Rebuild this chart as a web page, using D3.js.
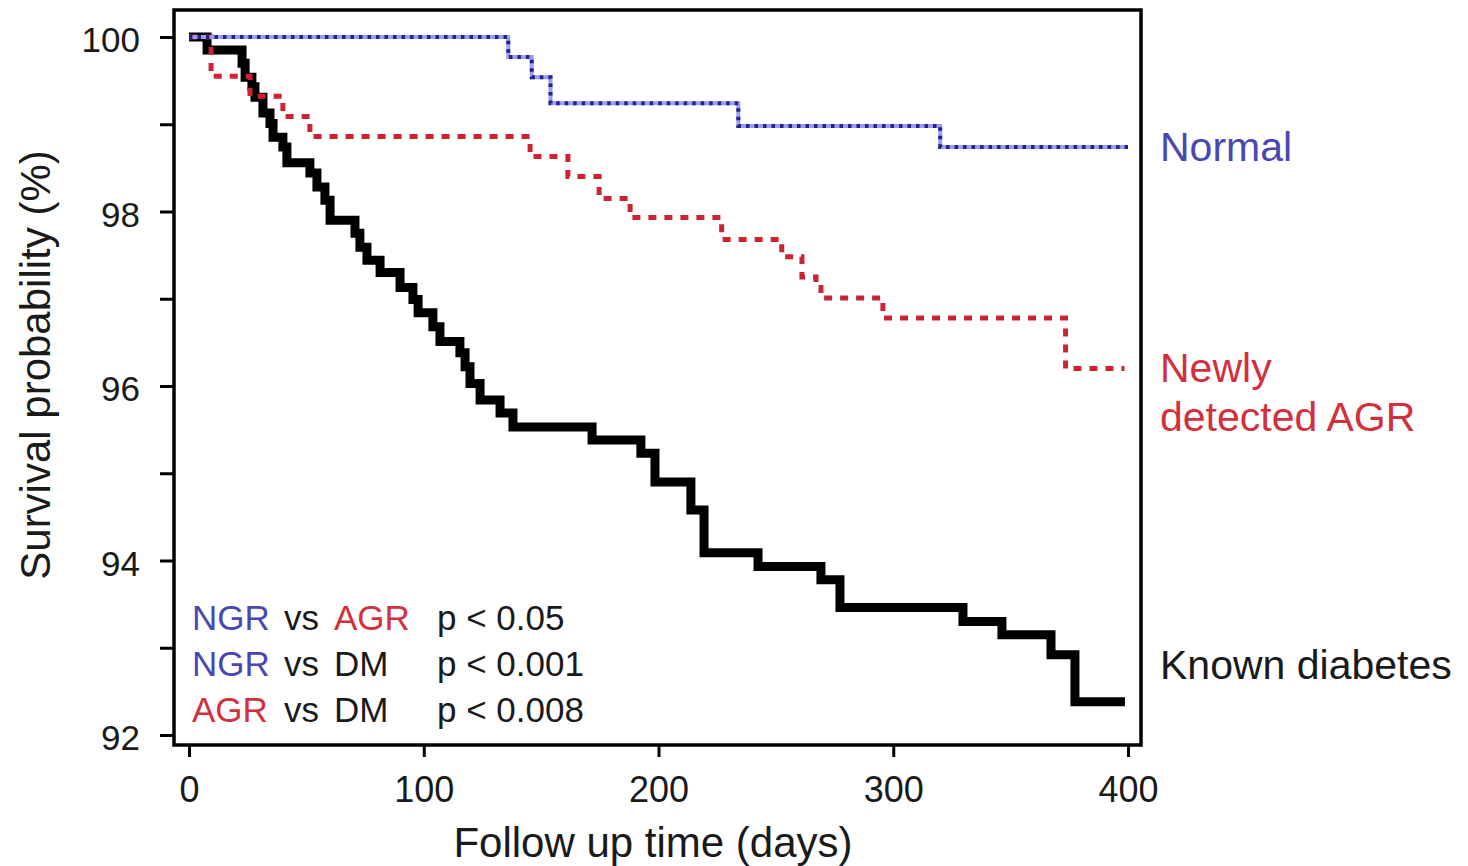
<!DOCTYPE html>
<html>
<head>
<meta charset="utf-8">
<script src="https://cdn.jsdelivr.net/npm/d3@7"></script>
<style>
  html, body { margin: 0; padding: 0; background: #fff; }
  svg { display: block; }
  text { font-family: "Liberation Sans", Arial, sans-serif; }
</style>
</head>
<body>
<svg id="chart" width="1468" height="866"></svg>
<script>
// ---- Data ----
const normalDays = [0, 136, 146, 154, 234, 320, 400];
const normalSurv = [100, 99.77, 99.54, 99.24, 98.98, 98.74, 98.74];

const agrDays = [0, 9.4, 26, 40, 51.5, 145.3, 161.4, 174.7, 187.9, 226.9, 252.5, 261.1, 267.1, 269.2, 295.6, 373.4, 398.5];
const agrSurv = [100, 99.55, 99.32, 99.09, 98.86, 98.63, 98.40, 98.15, 97.93, 97.68, 97.48, 97.25, 97.13, 97.01, 96.78, 96.20, 96.20];

const dmDays = [0, 7.7, 22.6, 23.9, 26.8, 28.1, 31.5, 34.5, 35.8, 40, 41.7, 51.5, 54.5, 57.9, 60.1, 70.7, 72.8, 75.8, 81.4, 89.9, 95.4, 97.6, 103.9, 106.9, 115.4, 117.6, 119.7, 124, 132.5, 138, 171.7, 192.5, 198.5, 213.8, 219.4, 242.4, 269.2, 277.3, 329.7, 346.3, 367.2, 377.4, 398.7];
const dmSurv = [100, 99.85, 99.70, 99.54, 99.43, 99.31, 99.13, 99.01, 98.85, 98.74, 98.56, 98.44, 98.28, 98.13, 97.90, 97.75, 97.59, 97.44, 97.30, 97.13, 96.99, 96.84, 96.68, 96.51, 96.38, 96.22, 96.03, 95.84, 95.69, 95.53, 95.38, 95.23, 94.90, 94.58, 94.09, 93.93, 93.78, 93.46, 93.30, 93.15, 92.92, 92.38, 92.38];

const xTicks = [0, 100, 200, 300, 400];
const yTicks = [92, 93, 94, 95, 96, 97, 98, 99, 100];
const yLabelTicks = [92, 94, 96, 98, 100];

const seriesLabels = ["Normal", "Newly", "detected AGR", "Known diabetes"];
const pRows = [
  [["NGR", "blue"], ["AGR", "red"], "p < 0.05"],
  [["NGR", "blue"], ["DM", "black"], "p < 0.001"],
  [["AGR", "red"], ["DM", "black"], "p < 0.008"]
];

// ---- Setup ----
const svg = d3.select("#chart");
const BLUE_TXT = "#4848b2", RED_TXT = "#d2303c", BLACK_TXT = "#1a1a1a";
const colorMap = { blue: BLUE_TXT, red: RED_TXT, black: BLACK_TXT };

const x = d3.scaleLinear().domain([0, 400]).range([189, 1128]);
const y = d3.scaleLinear().domain([92, 100]).range([735, 37]);

svg.append("rect").attr("width", 1468).attr("height", 866).attr("fill", "#fff");

// Axes
const yAxis = svg.append("g")
  .attr("transform", "translate(174,0)")
  .call(d3.axisLeft(y).tickValues(yTicks).tickSize(14).tickPadding(20)
    .tickFormat(d => yLabelTicks.includes(d) ? d : ""));
yAxis.select(".domain").remove();
yAxis.selectAll(".tick line").attr("stroke", "#000").attr("stroke-width", 3);
yAxis.selectAll(".tick text").attr("font-size", 35).attr("fill", BLACK_TXT)
  .attr("dy", "0.42em").attr("font-family", "'Liberation Sans', Arial, sans-serif");

const xAxis = svg.append("g")
  .attr("transform", "translate(0,745)")
  .call(d3.axisBottom(x).tickValues(xTicks).tickSize(12).tickPadding(19));
xAxis.select(".domain").remove();
xAxis.selectAll(".tick line").attr("stroke", "#000").attr("stroke-width", 3);
xAxis.selectAll(".tick text").attr("font-size", 36).attr("fill", BLACK_TXT)
  .attr("font-family", "'Liberation Sans', Arial, sans-serif");

// Frame
svg.append("rect")
  .attr("x", 174).attr("y", 10).attr("width", 967).attr("height", 735)
  .attr("fill", "none").attr("stroke", "#000").attr("stroke-width", 3.5);

// Curves
const line = d3.line().x(d => x(d[0])).y(d => y(d[1])).curve(d3.curveStepAfter);
const dm = d3.zip(dmDays, dmSurv);
const agr = d3.zip(agrDays, agrSurv);
const nor = d3.zip(normalDays, normalSurv);

svg.append("path").datum(dm).attr("d", line)
  .attr("fill", "none").attr("stroke", "#000").attr("stroke-width", 9)
  .attr("stroke-linejoin", "miter");

svg.append("path").datum(agr).attr("d", line)
  .attr("fill", "none").attr("stroke", "#cc2233").attr("stroke-width", 5)
  .attr("stroke-dasharray", "8,8");

svg.append("path").datum(nor).attr("d", line)
  .attr("fill", "none").attr("stroke", "#9c9cf2").attr("stroke-width", 4);
svg.append("path").datum(nor).attr("d", line)
  .attr("fill", "none").attr("stroke", "#22228f").attr("stroke-width", 4)
  .attr("stroke-dasharray", "3.5,5");

// Axis titles
svg.append("text")
  .attr("transform", "translate(50,365) rotate(-90)")
  .attr("text-anchor", "middle").attr("font-size", 42).attr("fill", BLACK_TXT)
  .text("Survival probability (%)");
svg.append("text")
  .attr("x", 653).attr("y", 857)
  .attr("text-anchor", "middle").attr("font-size", 42).attr("fill", BLACK_TXT)
  .text("Follow up time (days)");

// Series labels
const lab = [
  { t: seriesLabels[0], y: 161, c: BLUE_TXT },
  { t: seriesLabels[1], y: 382, c: RED_TXT },
  { t: seriesLabels[2], y: 431, c: RED_TXT },
  { t: seriesLabels[3], y: 679, c: BLACK_TXT }
];
svg.selectAll("text.slab").data(lab).enter().append("text")
  .attr("class", "slab")
  .attr("x", 1160).attr("y", d => d.y)
  .attr("font-size", 41).attr("fill", d => d.c)
  .text(d => d.t);

// p-value annotation
const rowY = [630, 676, 722];
pRows.forEach((r, i) => {
  const g = svg.append("g");
  g.append("text").attr("x", 192).attr("y", rowY[i]).attr("font-size", 35)
    .attr("fill", colorMap[r[0][1]]).text(r[0][0]);
  g.append("text").attr("x", 284).attr("y", rowY[i]).attr("font-size", 35)
    .attr("fill", BLACK_TXT).text("vs");
  g.append("text").attr("x", 334).attr("y", rowY[i]).attr("font-size", 35)
    .attr("fill", colorMap[r[1][1]]).text(r[1][0]);
  g.append("text").attr("x", 437).attr("y", rowY[i]).attr("font-size", 35)
    .attr("fill", BLACK_TXT).text(r[2]);
});
</script>
</body>
</html>
